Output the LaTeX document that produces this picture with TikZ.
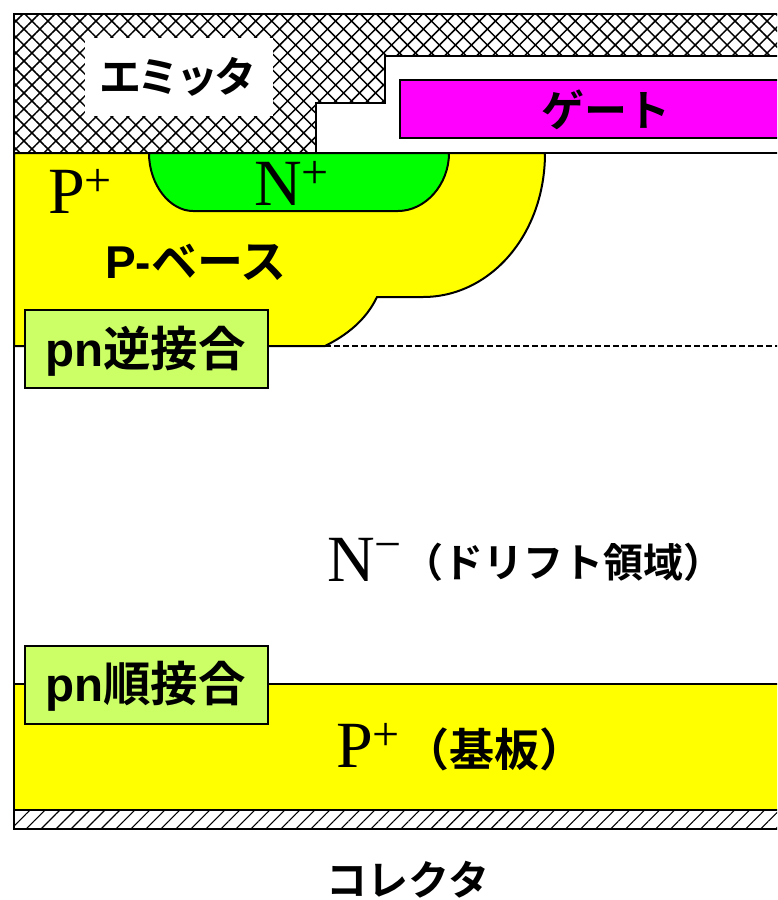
\documentclass[tikz,border=0pt]{standalone}
\usepackage{fontspec}
\setmainfont{Liberation Serif}
\newfontfamily\jpb[Script=Kana]{Noto Sans CJK JP Bold}
\newfontfamily\jpt[Script=Kana,LetterSpace=-9]{Noto Sans CJK JP Bold}
\newfontfamily\lab{Liberation Sans Bold}
\usetikzlibrary{patterns.meta}
\definecolor{ybase}{RGB}{255,255,0}
\definecolor{gn}{RGB}{0,255,0}
\definecolor{mg}{RGB}{255,0,255}
\definecolor{lime}{RGB}{204,255,102}
\newcommand{\sz}[1]{\fontsize{#1}{#1}\selectfont}
\newcommand{\supr}[1]{\raisebox{17pt}{\sz{48}#1}}
\tikzset{
  outl/.style={draw=black,line width=2pt,line join=miter},
  serifs/.style={inner sep=0pt,font=\sz{66}},
  pnbox/.style={outl,fill=lime,minimum width=243pt,minimum height=78pt,inner sep=0pt},
  pntext/.style={inner sep=0pt,font=\sz{47.5}},
}
\begin{document}
\begin{tikzpicture}[x=1pt,y=-1pt]
\useasboundingbox (0,0) rectangle (777,900);
\clip (0,0) rectangle (777,900);
% body
\path[fill=white] (14,14) rectangle (790,829);
% emitter metal
\path[pattern={Lines[angle=45,distance=11.3pt,line width=1.5pt]},pattern color=black]
  (14,14) -- (790,14) -- (790,56) -- (385,56) -- (385,103) -- (316,103) -- (316,153) -- (14,153) -- cycle;
\path[pattern={Lines[angle=-45,distance=11.3pt,line width=1.5pt]},pattern color=black]
  (14,14) -- (790,14) -- (790,56) -- (385,56) -- (385,103) -- (316,103) -- (316,153) -- (14,153) -- cycle;
\draw[outl] (790,56) -- (385,56) -- (385,103) -- (316,103) -- (316,153);
% bottom layers
\path[pattern={Lines[angle=45,distance=10.6pt,line width=1.1pt]},pattern color=black]
  (14,810) rectangle (790,829);
\draw[outl,fill=ybase] (14,684) rectangle (790,810);
% P base
\draw[outl,fill=ybase] (14,153) -- (545,153) .. controls (545,235) and (490,297) .. (423,297)
  -- (377,297) .. controls (366,320) and (347,335) .. (325,346) -- (14,346) -- cycle;
\draw[outl,fill=gn] (149,153) -- (449,153) .. controls (449,185) and (425,211) .. (398,211)
  -- (193,211) .. controls (170,211) and (149,185) .. (149,153) -- cycle;
\coordinate (dashstart) at (325,346);
\coordinate (dashend) at (790,346);
\draw[line width=1.6pt,dash pattern=on 6pt off 3pt] (dashstart) -- (dashend);
% frame
\draw[line width=2.6pt] (790,14) -- (14,14) -- (14,829) -- (790,829);
\draw[outl] (14,153) -- (790,153);
% gate
\draw[outl,fill=mg] (400,80) rectangle (790,138);
% labels
\node[fill=white,minimum width=188pt,minimum height=78pt,inner sep=0pt] (emit) at (179,77) {};
\node[inner sep=0pt,font=\jpt\sz{42}] (emittxt) at (178,77) {エミッタ};
\node[inner sep=0pt,font=\jpb\sz{43}] (gatetxt) at (606,110) {ゲート};
\node[serifs,anchor=west] (pplus) at (48,191) {P\supr{+}};
\node[serifs,anchor=west] (nplus) at (254,183) {N\supr{+}};
\node[inner sep=0pt,font=\sz{46}] (pbase) at (196,262) {\lab P-\jpb ベース};
\node[pnbox] (rev) at (146.5,349) {};
\node[pntext] (revtxt) at (145.5,351) {\lab pn\jpb 逆接合};
\node[pnbox] (fwd) at (146.5,684.5) {};
\node[pntext] (fwdtxt) at (145.5,686) {\lab pn\jpb 順接合};
\node[serifs,anchor=west] (nminus) at (327,560) {N\raisebox{4pt}{\supr{−}}};
\node[inner sep=0pt,font=\jpb\sz{40}] (drift) at (563,562) {（ドリフト領域）};
\node[serifs,anchor=west] (psub) at (336,745) {P\supr{+}};
\node[inner sep=0pt,font=\jpb\sz{45}] (subs) at (494,749) {（基板）};
\node[inner sep=0pt,font=\jpb\sz{41}] (coll) at (408,880) {コレクタ};
\end{tikzpicture}
\end{document}
